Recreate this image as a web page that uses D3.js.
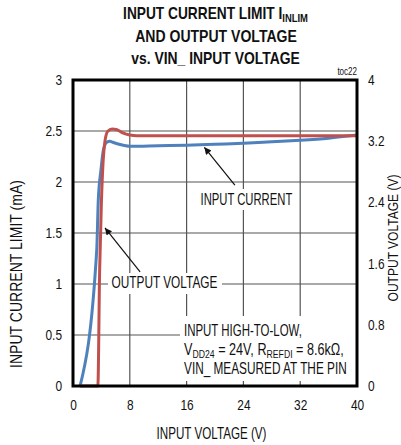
<!DOCTYPE html>
<html>
<head>
<meta charset="utf-8">
<script src="https://cdn.jsdelivr.net/npm/d3@7/dist/d3.min.js"></script>
<style>
  html, body { margin: 0; padding: 0; background: #fff; }
  svg text { font-family: "Liberation Sans", Arial, Helvetica, sans-serif; fill: #111; }
</style>
</head>
<body>
<svg id="chart" width="401" height="445"></svg>
<script>
// Input voltage sweep (V) and measured input current limit (mA)
const currentVin = [1, 3.34, 3.56, 3.94, 4.27, 4.75, 5.2, 5.6, 6.5, 8, 12, 16, 20, 24, 28, 32, 36, 40];
const currentMa  = [0, 1.33, 1.82, 2.12, 2.31, 2.39, 2.40, 2.39, 2.37, 2.35, 2.355, 2.36, 2.37, 2.38, 2.395, 2.41, 2.43, 2.46];

// Input voltage sweep (V) and output voltage (V)
const outputVin  = [1, 3.5, 3.75, 4.0, 4.25, 4.5, 4.9, 5.5, 6.2, 7.0, 8.0, 9.0, 40];
const outputV    = [0, 0, 1.5, 2.4, 2.95, 3.2, 3.33, 3.36, 3.35, 3.31, 3.28, 3.27, 3.27];

// Axis ticks
const xTicks      = [0, 8, 16, 24, 32, 40];
const leftTicks   = [0, 0.5, 1, 1.5, 2, 2.5, 3];
const rightTicks  = [0, 0.8, 1.6, 2.4, 3.2, 4];

const svg = d3.select("#chart");
const plot = { left: 73, right: 357, top: 80, bottom: 386 };

const x  = d3.scaleLinear().domain([0, 40]).range([plot.left, plot.right]);
const yL = d3.scaleLinear().domain([0, 3]).range([plot.bottom, plot.top]);
const yR = d3.scaleLinear().domain([0, 4]).range([plot.bottom, plot.top]);

// Condensed lettering: draw text at x = 0, then squeeze it horizontally
// to the wanted width and move it to its anchor point.
function condensed(parent, opts) {
  const g = parent.append("g");
  const t = g.append("text").attr("x", 0).attr("y", 0)
    .attr("text-anchor", opts.anchor || "start")
    .style("font-size", opts.size + "px");
  if (opts.bold) t.style("font-weight", "bold");
  opts.build(t);
  const w = t.node().getBBox().width;
  const k = opts.width / w;
  g.attr("transform", `translate(${opts.x},${opts.y}) rotate(${opts.rotate || 0}) scale(${k},1)`);
  return g;
}
const plain = s => t => t.text(s);

// Title
condensed(svg, { x: 215.5, y: 19, size: 16, bold: true, anchor: "middle", width: 185,
  build: t => {
    t.append("tspan").text("INPUT CURRENT LIMIT I");
    t.append("tspan").attr("dy", 3).style("font-size", "11px").text("INLIM");
  }});
condensed(svg, { x: 216, y: 42, size: 16, bold: true, anchor: "middle", width: 162,
  build: plain("AND OUTPUT VOLTAGE") });
condensed(svg, { x: 215.5, y: 64, size: 16, bold: true, anchor: "middle", width: 169,
  build: plain("vs. VIN_ INPUT VOLTAGE") });

condensed(svg, { x: 357, y: 75, size: 10, anchor: "end", width: 20, build: plain("toc22") });

// Grid
const grid = svg.append("g").attr("stroke", "#555").attr("stroke-width", 1.2);
grid.selectAll("line.v").data(xTicks.slice(1, -1)).join("line")
  .attr("x1", d => x(d)).attr("x2", d => x(d))
  .attr("y1", plot.top).attr("y2", plot.bottom);
grid.selectAll("line.h").data(leftTicks.slice(1, -1)).join("line")
  .attr("x1", plot.left).attr("x2", plot.right)
  .attr("y1", d => yL(d)).attr("y2", d => yL(d));

// Curves
const lineI = d3.line().x(d => x(d[0])).y(d => yL(d[1])).curve(d3.curveMonotoneX);
const lineV = d3.line().x(d => x(d[0])).y(d => yR(d[1])).curve(d3.curveMonotoneX);

svg.append("path").datum(currentVin.map((v, i) => [v, currentMa[i]]))
  .attr("d", lineI).attr("fill", "none").attr("stroke", "#4f81bd")
  .attr("stroke-width", 3).attr("stroke-linejoin", "round");
svg.append("path").datum(outputVin.map((v, i) => [v, outputV[i]]))
  .attr("d", lineV).attr("fill", "none").attr("stroke", "#c0504d")
  .attr("stroke-width", 3).attr("stroke-linejoin", "round");

// Conditions box
svg.append("rect").attr("x", 180).attr("y", 316).attr("width", 176).attr("height", 65)
  .attr("fill", "#fff");
condensed(svg, { x: 184, y: 336, size: 16, width: 118, build: plain("INPUT HIGH-TO-LOW,") });
condensed(svg, { x: 184, y: 355, size: 16, width: 160, build: t => {
  t.append("tspan").text("V");
  t.append("tspan").attr("dy", 3).style("font-size", "11px").text("DD24");
  t.append("tspan").attr("dy", -3).text(" = 24V, R");
  t.append("tspan").attr("dy", 3).style("font-size", "11px").text("REFDI");
  t.append("tspan").attr("dy", -3).text(" = 8.6kΩ,");
}});
condensed(svg, { x: 184, y: 374, size: 16, width: 163, build: plain("VIN_ MEASURED AT THE PIN") });

// Curve labels with arrows
svg.append("defs").append("marker").attr("id", "arrow")
  .attr("viewBox", "0 0 10 10").attr("refX", 10).attr("refY", 5)
  .attr("markerWidth", 11).attr("markerHeight", 7).attr("markerUnits", "userSpaceOnUse")
  .attr("orient", "auto")
  .append("path").attr("d", "M0,0L10,5L0,10Z").attr("fill", "#111");

svg.append("rect").attr("x", 197).attr("y", 189).attr("width", 100).attr("height", 21).attr("fill", "#fff");
condensed(svg, { x: 200.5, y: 205, size: 16, width: 92, build: plain("INPUT CURRENT") });
svg.append("line")
  .attr("x1", x(22.8)).attr("y1", yL(1.97)).attr("x2", x(18.5)).attr("y2", yL(2.34))
  .attr("stroke", "#111").attr("stroke-width", 1.2).attr("marker-end", "url(#arrow)");

svg.append("rect").attr("x", 108).attr("y", 273).attr("width", 114).attr("height", 21).attr("fill", "#fff");
condensed(svg, { x: 111.5, y: 288, size: 16, width: 106, build: plain("OUTPUT VOLTAGE") });
svg.append("line")
  .attr("x1", x(9.45)).attr("y1", yL(1.12)).attr("x2", x(4.5)).attr("y2", yL(1.55))
  .attr("stroke", "#111").attr("stroke-width", 1.2).attr("marker-end", "url(#arrow)");

// Frame
svg.append("rect").attr("x", plot.left).attr("y", plot.top)
  .attr("width", plot.right - plot.left).attr("height", plot.bottom - plot.top)
  .attr("fill", "none").attr("stroke", "#000").attr("stroke-width", 3);

// Axes
const tickK = 0.85;
const axX = svg.append("g").attr("transform", `translate(0,${plot.bottom})`)
  .call(d3.axisBottom(x).tickValues(xTicks).tickSize(0).tickPadding(14));
const axL = svg.append("g").attr("transform", `translate(${plot.left},0)`)
  .call(d3.axisLeft(yL).tickValues(leftTicks).tickSize(0).tickFormat(d3.format("")));
const axR = svg.append("g").attr("transform", `translate(${plot.right},0)`)
  .call(d3.axisRight(yR).tickValues(rightTicks).tickSize(0).tickFormat(d3.format("")));
[axX, axL, axR].forEach(a => {
  a.select(".domain").remove();
  a.selectAll("text").style("font-size", "14px").style("font-family", null).attr("fill", "#111")
    .attr("transform", `scale(${tickK},1)`);
});
axL.selectAll("text").attr("x", -11 / tickK);
axR.selectAll("text").attr("x", 11 / tickK);

// Axis titles
condensed(svg, { x: 211.5, y: 439, size: 16, anchor: "middle", width: 110,
  build: plain("INPUT VOLTAGE (V)") });
condensed(svg, { x: 22, y: 274, size: 16, anchor: "middle", rotate: -90, width: 188,
  build: plain("INPUT CURRENT LIMIT (mA)") });
condensed(svg, { x: 398, y: 238, size: 15, anchor: "middle", rotate: -90, width: 127,
  build: plain("OUTPUT VOLTAGE (V)") });
</script>
</body>
</html>
